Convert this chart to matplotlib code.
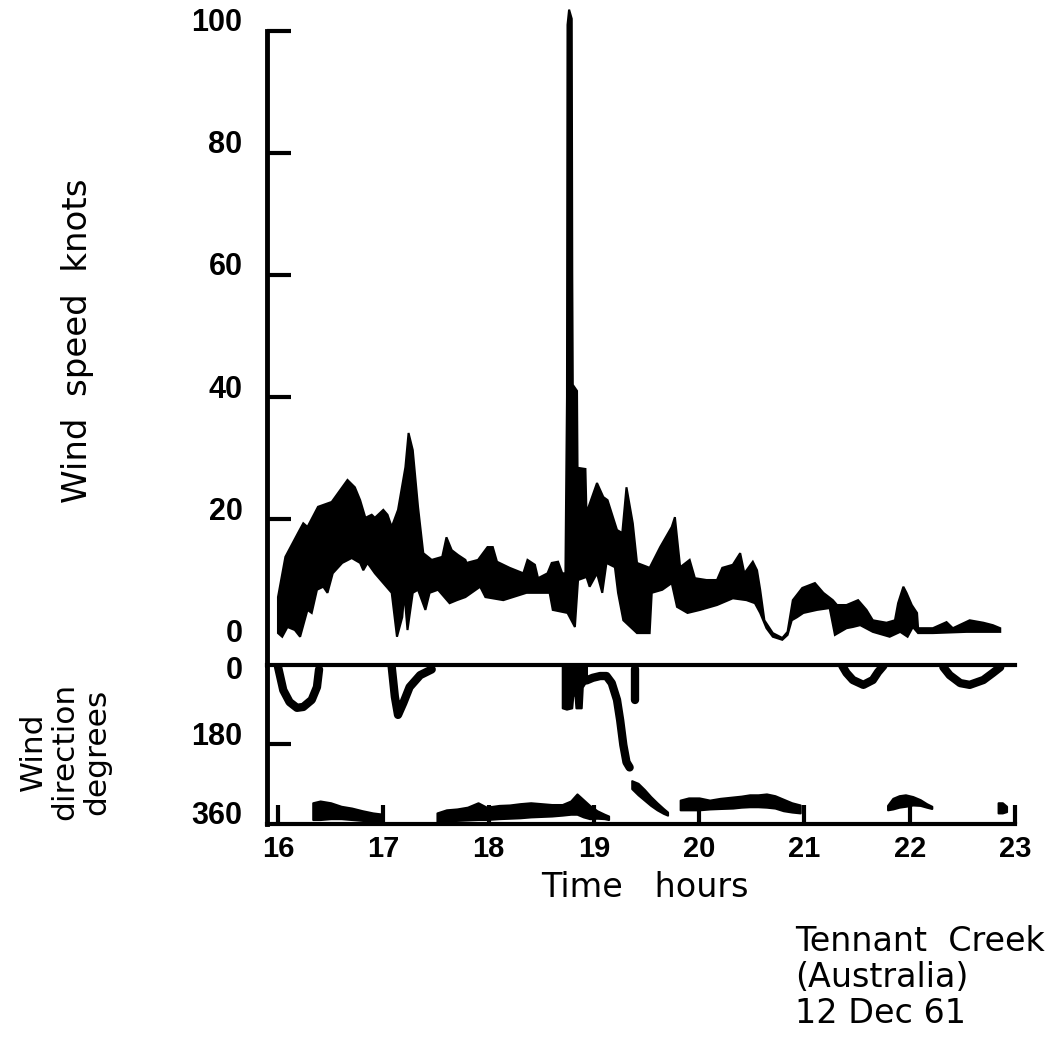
import numpy as np
import matplotlib.pyplot as plt
from matplotlib.transforms import ScaledTranslation

# ---- wind speed trace: upper and lower edge of the recorder band (hours, knots)
speed_top_h = [16.00, 16.07, 16.19, 16.24, 16.28, 16.38, 16.51, 16.66, 16.73, 16.78,
               16.83, 16.89, 16.92, 17.00, 17.04, 17.08, 17.14, 17.21, 17.24, 17.28,
               17.33, 17.38, 17.46, 17.56, 17.60, 17.65, 17.71, 17.78, 17.79, 17.90,
               17.99, 18.04, 18.08, 18.20, 18.33, 18.37, 18.44, 18.47, 18.56, 18.60,
               18.66, 18.70, 18.73, 18.745, 18.75, 18.765, 18.79, 18.795, 18.80, 18.84,
               18.845, 18.92, 18.93, 19.03, 19.09, 19.13, 19.22, 19.27, 19.31, 19.37,
               19.41, 19.53, 19.63, 19.74, 19.77, 19.82, 19.91, 19.96, 20.07, 20.17,
               20.22, 20.32, 20.39, 20.43, 20.51, 20.55, 20.58, 20.62, 20.70, 20.79,
               20.84, 20.89, 20.98, 21.10, 21.18, 21.27, 21.31, 21.40, 21.51, 21.59,
               21.65, 21.78, 21.86, 21.89, 21.94, 21.97, 22.02, 22.07, 22.08, 22.22,
               22.35, 22.41, 22.57, 22.70, 22.79, 22.86]
speed_top_kt = [7.2, 13.8, 17.7, 19.3, 18.7, 22.0, 22.8, 26.4, 25.2, 23.1,
                20.2, 20.7, 20.2, 21.5, 20.7, 18.7, 21.5, 28.5, 34.1, 31.3,
                22.0, 14.4, 13.3, 13.8, 17.0, 14.9, 14.1, 13.3, 12.8, 13.3,
                15.4, 15.4, 13.0, 12.0, 11.1, 13.3, 12.5, 10.3, 11.1, 12.8,
                13.0, 11.1, 11.1, 40.0, 101.0, 103.5, 102.0, 60.0, 42.0, 41.0,
                28.4, 28.2, 21.0, 25.9, 23.6, 23.1, 18.2, 17.7, 25.2, 19.3,
                12.8, 12.0, 15.4, 18.7, 20.3, 12.1, 13.3, 10.3, 10.0, 10.0,
                12.0, 12.5, 14.4, 11.1, 13.0, 11.6, 8.4, 3.4, 1.3, 0.5,
                1.5, 6.7, 8.7, 9.5, 7.9, 6.7, 5.9, 5.9, 6.7, 5.1,
                3.4, 3.0, 3.4, 6.2, 8.9, 7.9, 5.9, 4.6, 2.1, 2.1,
                3.1, 2.1, 3.4, 3.0, 2.6, 2.1]
speed_low_h = [16.00, 16.04, 16.09, 16.16, 16.21, 16.28, 16.32, 16.37, 16.43, 16.47,
               16.52, 16.61, 16.70, 16.78, 16.81, 16.85, 16.92, 16.99, 17.08, 17.13,
               17.18, 17.20, 17.23, 17.28, 17.33, 17.40, 17.44, 17.52, 17.63, 17.70,
               17.78, 17.92, 17.97, 18.14, 18.36, 18.58, 18.61, 18.75, 18.82, 18.85,
               18.93, 18.96, 19.03, 19.08, 19.12, 19.20, 19.23, 19.28, 19.41, 19.53,
               19.55, 19.65, 19.74, 19.79, 19.89, 20.01, 20.17, 20.32, 20.45, 20.53,
               20.58, 20.64, 20.70, 20.79, 20.84, 20.88, 20.93, 20.99, 21.12, 21.24,
               21.29, 21.40, 21.46, 21.53, 21.65, 21.69, 21.81, 21.91, 21.98, 22.03,
               22.08, 22.22, 22.54, 22.86]
speed_low_kt = [1.3, 0.7, 2.3, 1.8, 0.7, 5.1, 4.6, 8.4, 8.9, 7.9,
                11.1, 12.8, 13.6, 12.8, 11.6, 12.8, 11.1, 9.7, 7.9, 0.7,
                3.9, 7.9, 1.8, 7.9, 8.4, 5.1, 7.9, 8.4, 6.2, 6.7,
                7.2, 8.9, 7.2, 6.7, 7.9, 7.9, 5.1, 4.6, 2.3, 10.0,
                10.5, 8.9, 11.1, 7.9, 12.8, 12.1, 7.9, 3.4, 1.3, 1.3,
                7.9, 8.4, 9.5, 5.6, 4.6, 5.1, 5.9, 7.0, 6.7, 6.2,
                4.6, 2.1, 0.7, 0.2, 1.0, 3.4, 3.9, 4.6, 5.1, 5.4,
                1.0, 2.1, 2.3, 2.6, 1.5, 1.3, 0.7, 1.5, 0.7, 2.3,
                1.3, 1.3, 1.5, 1.5]

# ---- wind direction: pen strokes (hours, degrees)
dir_strokes = [
    ([16.00, 16.05, 16.11, 16.18, 16.24, 16.32, 16.37, 16.39],
     [4, 57, 84, 97, 95, 79, 50, 10]),
    ([17.08, 17.11, 17.14, 17.19, 17.25, 17.35, 17.46],
     [4, 72, 113, 86, 50, 23, 10]),
    ([18.93, 18.99, 19.06, 19.12, 19.17, 19.22, 19.25, 19.28, 19.31, 19.34],
     [35, 29, 25, 25, 41, 79, 125, 181, 220, 232]),
    ([19.39, 19.39], [8, 79]),
    ([21.36, 21.40, 21.46, 21.56, 21.65, 21.70, 21.75],
     [2, 18, 34, 45, 34, 16, 2]),
    ([22.32, 22.38, 22.48, 22.57, 22.70, 22.79, 22.86],
     [5, 23, 41, 45, 34, 18, 5]),
]

# ---- wind direction: broad smudges (hours, upper degrees, lower degrees)
dir_bands = [
    ([18.70, 18.74, 18.79, 18.80, 18.82, 18.83, 18.88, 18.89, 18.93],
     [0, 0, 0, 0, 0, 0, 0, 0, 0],
     [97, 100, 97, 70, 65, 97, 97, 50, 35]),
    ([16.33, 16.40, 16.50, 16.60, 16.70, 16.80, 16.90, 17.00],
     [312, 308, 312, 320, 324, 330, 335, 338],
     [350, 350, 348, 348, 350, 352, 353, 354]),
    ([17.51, 17.60, 17.70, 17.80, 17.90, 17.98, 18.10, 18.20, 18.30, 18.40,
      18.50, 18.60, 18.70, 18.78, 18.84, 18.90, 18.96, 19.03, 19.10, 19.14],
     [335, 328, 326, 322, 312, 322, 318, 317, 314, 312,
      314, 316, 316, 308, 292, 305, 318, 330, 338, 342],
     [355, 353, 352, 351, 350, 350, 348, 347, 346, 344,
      343, 342, 340, 338, 338, 344, 348, 347, 348, 350]),
    ([19.36, 19.42, 19.48, 19.54, 19.60, 19.66, 19.70],
     [262, 268, 282, 298, 312, 325, 333],
     [280, 294, 306, 318, 328, 336, 340]),
    ([19.82, 19.90, 20.00, 20.10, 20.20, 20.32, 20.40, 20.48, 20.56, 20.64,
      20.72, 20.80, 20.88, 20.96],
     [306, 301, 301, 306, 302, 299, 297, 294, 294, 292, 296, 304, 312, 317],
     [328, 328, 328, 326, 325, 324, 322, 321, 321, 322, 324, 330, 333, 335]),
    ([21.79, 21.84, 21.90, 21.96, 22.03, 22.10, 22.16, 22.21],
     [318, 302, 296, 294, 298, 305, 314, 320],
     [328, 326, 322, 320, 317, 318, 322, 325]),
    ([22.84, 22.88, 22.92], [312, 312, 320], [335, 335, 332]),
]

hours = [16, 17, 18, 19, 20, 21, 22, 23]
speed_ticks = [0, 20, 40, 60, 80, 100]
dir_ticks = [0, 180, 360]

num_font = dict(family="Liberation Sans", weight="bold")

fig = plt.figure(figsize=(10.51, 10.41), dpi=100)
ax_s = fig.add_axes([0.2545, 0.3612, 0.7112, 0.634])
ax_d = fig.add_axes([0.2545, 0.2085, 0.7112, 0.1527])

# speed band
poly_h = np.r_[speed_top_h, speed_low_h[::-1]]
poly_v = np.r_[speed_top_kt, speed_low_kt[::-1]]
ax_s.fill(poly_h, poly_v, facecolor="black", edgecolor="black", lw=1.5)
ax_s.set_xlim(15.9, 23.0)
ax_s.set_ylim(-3.93, 104.26)
for side in ("top", "right", "bottom"):
    ax_s.spines[side].set_visible(False)
ax_s.spines["left"].set_linewidth(3.5)
ax_s.spines["left"].set_bounds(-3.93, 100)
ax_s.set_xticks([])
ax_s.set_yticks(speed_ticks)
ax_s.set_yticklabels([str(v) for v in speed_ticks])
ax_s.tick_params(axis="y", direction="in", length=17, width=3, pad=18, labelsize=22)
ax_s.yaxis.get_major_ticks()[0].tick1line.set_visible(False)

# direction trace
for h, d in dir_strokes:
    ax_d.plot(h, d, color="black", lw=6, solid_capstyle="round", solid_joinstyle="round")
for h, top, bot in dir_bands:
    ax_d.fill_between(h, top, bot, facecolor="black", edgecolor="black", lw=1.5)
ax_d.set_xlim(15.9, 23.0)
ax_d.set_ylim(360, 0)
ax_d.spines["right"].set_visible(False)
ax_d.spines["left"].set_linewidth(3.5)
ax_d.spines["top"].set_linewidth(3)
ax_d.spines["bottom"].set_linewidth(3)
ax_d.set_xticks(hours)
ax_d.set_xticklabels([str(h) for h in hours])
ax_d.tick_params(axis="x", direction="in", length=14, width=3, pad=8, labelsize=21)
ax_d.set_yticks(dir_ticks)
ax_d.set_yticklabels([str(v) for v in dir_ticks])
ax_d.tick_params(axis="y", direction="in", length=17, width=3, pad=18, labelsize=22)
yt = ax_d.yaxis.get_major_ticks()
yt[0].tick1line.set_visible(False)
yt[2].tick1line.set_visible(False)

# number styling and nudges of the lettering above the tick marks
up = ScaledTranslation(0, 0.11, fig.dpi_scale_trans)
down = ScaledTranslation(0, -0.03, fig.dpi_scale_trans)
for lbl in ax_s.get_yticklabels():
    lbl.set(**num_font)
    lbl.set_transform(lbl.get_transform() + up)
for i, lbl in enumerate(ax_d.get_yticklabels()):
    lbl.set(**num_font)
    lbl.set_transform(lbl.get_transform() + (down if i == 0 else up))
for lbl in ax_d.get_xticklabels():
    lbl.set(**num_font)

fig.text(0.0742, 0.673, "Wind  speed  knots", rotation=90, ha="center", va="center",
         fontsize=24.5)
fig.text(0.062, 0.278, "Wind\ndirection\ndegrees", rotation=90, ha="center", va="center",
         multialignment="center", fontsize=22.5, linespacing=1.1)
fig.text(0.6137, 0.147, "Time   hours", ha="center", va="center", fontsize=24)
fig.text(0.7564, 0.1114, "Tennant  Creek\n(Australia)\n12 Dec 61", ha="left", va="top",
         fontsize=24, linespacing=1.12)

fig.savefig("out.png", dpi=100)
